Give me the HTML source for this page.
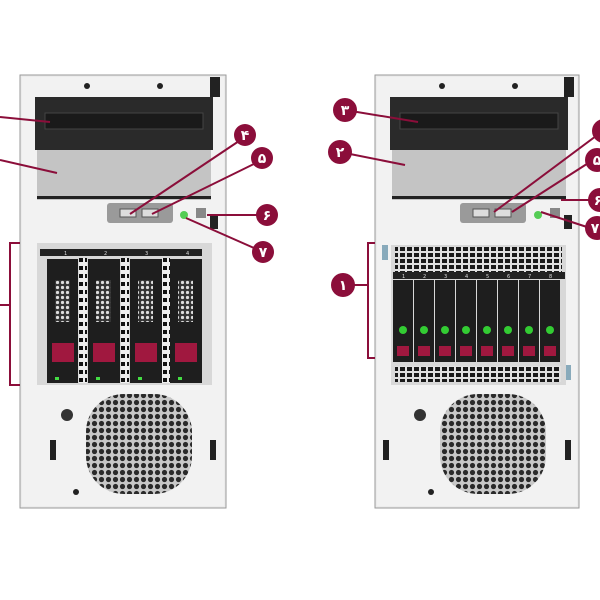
<!DOCTYPE html>
<html><head><meta charset="utf-8"><style>
body{margin:0;background:#fff}
svg{display:block}
text{font-family:"DejaVu Sans","Liberation Sans",sans-serif}
</style></head><body>
<svg width="600" height="600" viewBox="0 0 600 600" xmlns="http://www.w3.org/2000/svg">
<defs>
<pattern id="hex" width="7" height="7" patternUnits="userSpaceOnUse">
<rect width="7" height="7" fill="#c8c8c8"/><circle cx="3.5" cy="3.5" r="2.6" fill="#2a2a2a"/>
</pattern>
<pattern id="vent" width="7" height="6" patternUnits="userSpaceOnUse">
<rect width="7" height="6" fill="#e0e0e0"/><rect x="1" y="1" width="5" height="4" fill="#1a1a1a"/>
</pattern>
<pattern id="ladder" width="6" height="8" patternUnits="userSpaceOnUse">
<rect width="6" height="8" fill="#eee"/><rect x="1" y="2" width="4" height="4" fill="#111"/>
</pattern>
<pattern id="dhex" width="5" height="5" patternUnits="userSpaceOnUse">
<rect width="5" height="5" fill="#333"/><circle cx="2.5" cy="2.5" r="1.6" fill="#ddd"/>
</pattern>
</defs>

<!-- LEFT TOWER -->
<g>
<rect x="20" y="75" width="206" height="433" fill="#ececec" stroke="#999"/>
<rect x="22" y="77" width="202" height="429" fill="#f2f2f2"/>
<rect x="210" y="77" width="10" height="20" fill="#222"/>
<circle cx="87" cy="86" r="3" fill="#222"/><circle cx="160" cy="86" r="3" fill="#222"/>
<rect x="35" y="97" width="178" height="53" fill="#2a2a2a"/>
<rect x="45" y="113" width="158" height="16" fill="#1a1a1a" stroke="#444"/>
<rect x="37" y="150" width="174" height="50" fill="#c4c4c4"/>
<rect x="37" y="196" width="174" height="3" fill="#222"/>
<rect x="107" y="203" width="66" height="20" rx="3" fill="#9a9a9a"/>
<rect x="120" y="209" width="16" height="8" fill="#ddd" stroke="#555"/>
<rect x="142" y="209" width="16" height="8" fill="#ddd" stroke="#555"/>
<circle cx="184" cy="215" r="4" fill="#5c5"/>
<rect x="196" y="208" width="10" height="10" fill="#888"/>
<rect x="210" y="215" width="8" height="14" fill="#222"/>
<rect x="37" y="243" width="175" height="142" fill="#d8d8d8"/>
<rect x="40" y="249" width="162" height="7" fill="#222"/>
<text x="64" y="255" font-size="5" fill="#ddd">1</text><text x="104" y="255" font-size="5" fill="#ddd">2</text><text x="145" y="255" font-size="5" fill="#ddd">3</text><text x="186" y="255" font-size="5" fill="#ddd">4</text>
<rect x="79" y="258" width="8" height="125" fill="url(#ladder)"/>
<rect x="121" y="258" width="8" height="125" fill="url(#ladder)"/>
<rect x="162" y="258" width="8" height="125" fill="url(#ladder)"/>
<g fill="#1e1e1e">
<rect x="47" y="259" width="31" height="124"/><rect x="88" y="259" width="32" height="124"/>
<rect x="130" y="259" width="32" height="124"/><rect x="170" y="259" width="32" height="124"/></g>
<g fill="url(#dhex)">
<rect x="55" y="280" width="15" height="42"/><rect x="96" y="280" width="15" height="42"/>
<rect x="138" y="280" width="15" height="42"/><rect x="178" y="280" width="15" height="42"/></g>
<g fill="#a0183f">
<rect x="52" y="343" width="22" height="19"/><rect x="93" y="343" width="22" height="19"/>
<rect x="135" y="343" width="22" height="19"/><rect x="175" y="343" width="22" height="19"/></g>
<g fill="#4d4"><rect x="55" y="377" width="4" height="3"/><rect x="96" y="377" width="4" height="3"/><rect x="138" y="377" width="4" height="3"/><rect x="178" y="377" width="4" height="3"/></g>
<rect x="86" y="394" width="106" height="100" rx="38" fill="url(#hex)"/>
<circle cx="67" cy="415" r="6" fill="#333"/>
<rect x="50" y="440" width="6" height="20" fill="#222"/>
<rect x="210" y="440" width="6" height="20" fill="#222"/>
<circle cx="76" cy="492" r="3" fill="#222"/>
</g>

<!-- RIGHT TOWER -->
<g>
<rect x="375" y="75" width="204" height="433" fill="#ececec" stroke="#999"/>
<rect x="377" y="77" width="200" height="429" fill="#f2f2f2"/>
<rect x="564" y="77" width="10" height="20" fill="#222"/>
<circle cx="442" cy="86" r="3" fill="#222"/><circle cx="515" cy="86" r="3" fill="#222"/>
<rect x="390" y="97" width="178" height="53" fill="#2a2a2a"/>
<rect x="400" y="113" width="158" height="16" fill="#1a1a1a" stroke="#444"/>
<rect x="392" y="150" width="174" height="50" fill="#c4c4c4"/>
<rect x="392" y="196" width="174" height="3" fill="#222"/>
<rect x="460" y="203" width="66" height="20" rx="3" fill="#9a9a9a"/>
<rect x="473" y="209" width="16" height="8" fill="#ddd" stroke="#555"/>
<rect x="495" y="209" width="16" height="8" fill="#ddd" stroke="#555"/>
<circle cx="538" cy="215" r="4" fill="#5c5"/>
<rect x="550" y="208" width="10" height="10" fill="#888"/>
<rect x="564" y="215" width="8" height="14" fill="#222"/>
<rect x="382" y="245" width="6" height="15" fill="#8ab"/>
<rect x="565" y="365" width="6" height="15" fill="#8ab"/>
<rect x="391" y="245" width="175" height="140" fill="#d8d8d8"/>
<rect x="395" y="247" width="167" height="25" fill="url(#vent)"/>
<rect x="393" y="272" width="172" height="7" fill="#222"/>
<g font-size="5" fill="#ddd"><text x="402" y="278">1</text><text x="423" y="278">2</text><text x="444" y="278">3</text><text x="465" y="278">4</text><text x="486" y="278">5</text><text x="507" y="278">6</text><text x="528" y="278">7</text><text x="549" y="278">8</text></g>
<g fill="#1e1e1e">
<rect x="393" y="280" width="20" height="82"/><rect x="414" y="280" width="20" height="82"/><rect x="435" y="280" width="20" height="82"/><rect x="456" y="280" width="20" height="82"/>
<rect x="477" y="280" width="20" height="82"/><rect x="498" y="280" width="20" height="82"/><rect x="519" y="280" width="20" height="82"/><rect x="540" y="280" width="20" height="82"/></g>
<g fill="#3c3"><circle cx="403" cy="330" r="4"/><circle cx="424" cy="330" r="4"/><circle cx="445" cy="330" r="4"/><circle cx="466" cy="330" r="4"/><circle cx="487" cy="330" r="4"/><circle cx="508" cy="330" r="4"/><circle cx="529" cy="330" r="4"/><circle cx="550" cy="330" r="4"/></g>
<g fill="#a0183f"><rect x="397" y="346" width="12" height="10"/><rect x="418" y="346" width="12" height="10"/><rect x="439" y="346" width="12" height="10"/><rect x="460" y="346" width="12" height="10"/><rect x="481" y="346" width="12" height="10"/><rect x="502" y="346" width="12" height="10"/><rect x="523" y="346" width="12" height="10"/><rect x="544" y="346" width="12" height="10"/></g>
<rect x="395" y="366" width="166" height="16" fill="url(#vent)"/>
<rect x="440" y="394" width="106" height="100" rx="38" fill="url(#hex)"/>
<circle cx="420" cy="415" r="6" fill="#333"/>
<rect x="383" y="440" width="6" height="20" fill="#222"/>
<rect x="565" y="440" width="6" height="20" fill="#222"/>
<circle cx="431" cy="492" r="3" fill="#222"/>
</g>

<!-- CALLOUTS -->
<g stroke="#8b0e3a" stroke-width="2" fill="none">
<line x1="0" y1="117" x2="50" y2="122"/>
<line x1="0" y1="160" x2="57" y2="173"/>
<polyline points="20,243 10,243 10,385 20,385"/><line x1="0" y1="305" x2="10" y2="305"/>
<line x1="245" y1="137" x2="130" y2="214"/>
<line x1="262" y1="160" x2="152" y2="214"/>
<line x1="267" y1="215" x2="207" y2="215"/>
<line x1="263" y1="252" x2="186" y2="218"/>
<line x1="345" y1="110" x2="418" y2="122"/>
<line x1="340" y1="152" x2="405" y2="165"/>
<polyline points="375,243 368,243 368,358 375,358"/><line x1="343" y1="285" x2="368" y2="285"/>
<line x1="600" y1="133" x2="494" y2="212"/>
<line x1="593" y1="160" x2="512" y2="212"/>
<line x1="593" y1="200" x2="561" y2="200"/>
<line x1="590" y1="228" x2="541" y2="212"/>
</g>
<g fill="#8b0e3a">
<circle cx="245" cy="135" r="11"/><circle cx="262" cy="158" r="11"/><circle cx="267" cy="215" r="11"/><circle cx="263" cy="252" r="11"/>
<circle cx="345" cy="110" r="12"/><circle cx="340" cy="152" r="12"/><circle cx="343" cy="285" r="12"/>
<circle cx="604" cy="131" r="12"/><circle cx="597" cy="160" r="12"/><circle cx="600" cy="200" r="12"/><circle cx="597" cy="228" r="12"/>
</g>
<g fill="#fff" font-size="14" font-weight="bold" text-anchor="middle">
<text x="245" y="140">۴</text><text x="262" y="163">۵</text><text x="267" y="220">۶</text><text x="263" y="257">۷</text>
<text x="345" y="115">۳</text><text x="340" y="157">۲</text><text x="343" y="290">۱</text>
<text x="597" y="165">۵</text><text x="598" y="205">۶</text><text x="595" y="233">۷</text>
</g>
</svg>
</body></html>
